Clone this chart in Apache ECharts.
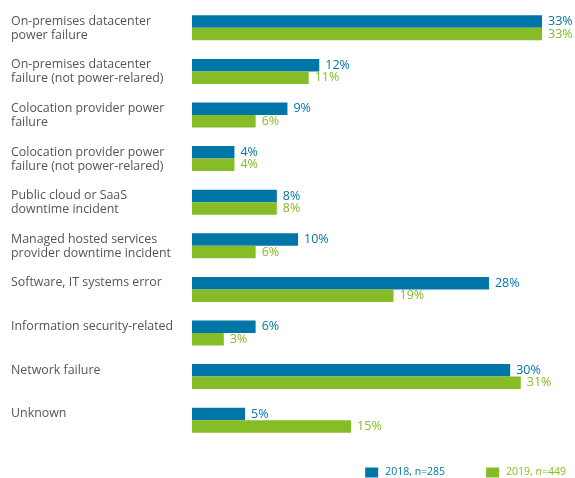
<!DOCTYPE html>
<html>
<head>
<meta charset="utf-8">
<style>html,body{margin:0;padding:0;background:#fff}#c{width:575px;height:478px}</style>
<script src="https://cdn.jsdelivr.net/npm/echarts@6/dist/echarts.min.js"></script>
</head>
<body>
<div id="c"></div>
<script>
const categories = [
  "On-premises datacenter\npower failure",
  "On-premises datacenter\nfailure (not power-relared)",
  "Colocation provider power\nfailure",
  "Colocation provider power\nfailure (not power-relared)",
  "Public cloud or SaaS\ndowntime incident",
  "Managed hosted services\nprovider downtime incident",
  "Software, IT systems error",
  "Information security-related",
  "Network failure",
  "Unknown"
];
const values2018 = [33, 12, 9, 4, 8, 10, 28, 6, 30, 5];
const values2019 = [33, 11, 6, 4, 8, 6, 19, 3, 31, 15];
const seriesNames = ["2018, n=285", "2019, n=449"];
const BLUE = "#0076a8", GREEN = "#86bc25";
const FONT = "'Open Sans', sans-serif";

const chart = echarts.init(document.getElementById('c'), null, {renderer: 'canvas'});
chart.setOption({
  animation: false,
  grid: {left: 192, right: 33, top: 6, bottom: 36, containLabel: false},
  xAxis: {type: 'value', min: 0, max: 33, show: false},
  yAxis: {
    type: 'category', inverse: true, data: categories,
    axisLine: {show: false}, axisTick: {show: false},
    axisLabel: {
      align: 'left', margin: 181, verticalAlign: 'top', padding: [-13.5, 0, 0, 0],
      color: '#555', fontFamily: FONT, fontSize: 12.4, lineHeight: 14
    }
  },
  legend: {
    right: 9, top: 467, padding: 0, itemWidth: 13, itemHeight: 10, itemGap: 41,
    icon: 'rect',
    textStyle: {fontFamily: FONT, fontSize: 10.5, padding: [0, 0, 0, 2]},
    data: [
      {name: seriesNames[0], textStyle: {color: BLUE}},
      {name: seriesNames[1], textStyle: {color: GREEN}}
    ]
  },
  series: [
    {name: seriesNames[0], type: 'bar', data: values2018, barWidth: 12.5, barGap: '0%',
     itemStyle: {color: BLUE},
     label: {show: true, position: 'right', distance: 6, formatter: '{c}%', color: BLUE, fontFamily: FONT, fontSize: 12.5}},
    {name: seriesNames[1], type: 'bar', data: values2019, barWidth: 12.5, barGap: '0%',
     itemStyle: {color: GREEN},
     label: {show: true, position: 'right', distance: 6, formatter: '{c}%', color: GREEN, fontFamily: FONT, fontSize: 12.5}}
  ]
});
</script>
</body>
</html>
